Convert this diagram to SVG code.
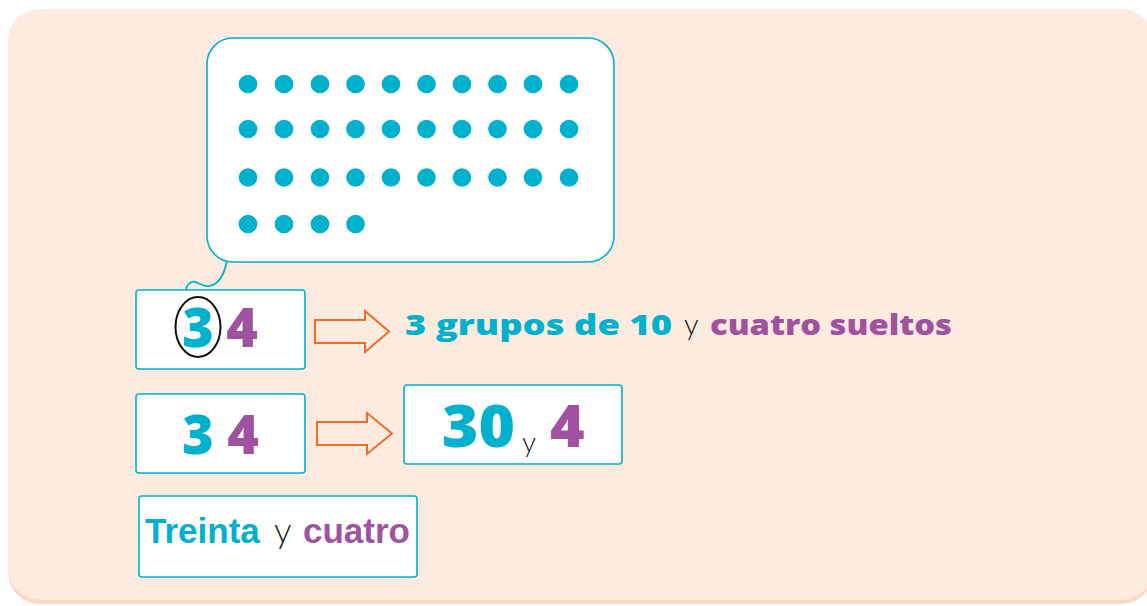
<svg xmlns="http://www.w3.org/2000/svg" width="1147" height="606" viewBox="0 0 1147 606">
<defs>
<style>
.box{fill:#fff;stroke:#00b1cd;stroke-width:1.6}
.dot{fill:#00b1cd}
.arr{fill:none;stroke:#f26b2a;stroke-width:2;stroke-linejoin:miter}
.b{font-family:"Open Sans","DejaVu Sans",sans-serif;font-weight:800}
.l{font-family:"Liberation Sans",Arial,sans-serif;font-weight:700}
.c{fill:#00b1cd}
.p{fill:#a0519f}
.y{font-family:Lato,"Open Sans",sans-serif;font-weight:300;fill:#222}
</style>
</defs>
<rect width="1147" height="606" fill="#fefefe"/>
<rect x="8" y="11" width="1145" height="593" rx="32" fill="#fcd8c4"/>
<rect x="8" y="9" width="1145" height="591" rx="32" fill="#fdebdf"/>

<g id="bubble">
<path d="M227,261 C224,275 218,287 206,286 C198,285 195,279 190,283 C187,285 186,288 186,291" fill="none" stroke="#00b1cd" stroke-width="1.8"/>
<rect class="box" x="207" y="38" width="407" height="224" rx="26"/>
<g id="dots">
<circle class="dot" cx="248" cy="84" r="9.3"/><circle class="dot" cx="284" cy="84" r="9.3"/><circle class="dot" cx="320" cy="84" r="9.3"/><circle class="dot" cx="355.5" cy="84" r="9.3"/><circle class="dot" cx="391" cy="84" r="9.3"/><circle class="dot" cx="426.5" cy="84" r="9.3"/><circle class="dot" cx="462" cy="84" r="9.3"/><circle class="dot" cx="497.5" cy="84" r="9.3"/><circle class="dot" cx="533" cy="84" r="9.3"/><circle class="dot" cx="569" cy="84" r="9.3"/>
<circle class="dot" cx="248" cy="129" r="9.3"/><circle class="dot" cx="284" cy="129" r="9.3"/><circle class="dot" cx="320" cy="129" r="9.3"/><circle class="dot" cx="355.5" cy="129" r="9.3"/><circle class="dot" cx="391" cy="129" r="9.3"/><circle class="dot" cx="426.5" cy="129" r="9.3"/><circle class="dot" cx="462" cy="129" r="9.3"/><circle class="dot" cx="497.5" cy="129" r="9.3"/><circle class="dot" cx="533" cy="129" r="9.3"/><circle class="dot" cx="569" cy="129" r="9.3"/>
<circle class="dot" cx="248" cy="177.5" r="9.3"/><circle class="dot" cx="284" cy="177.5" r="9.3"/><circle class="dot" cx="320" cy="177.5" r="9.3"/><circle class="dot" cx="355.5" cy="177.5" r="9.3"/><circle class="dot" cx="391" cy="177.5" r="9.3"/><circle class="dot" cx="426.5" cy="177.5" r="9.3"/><circle class="dot" cx="462" cy="177.5" r="9.3"/><circle class="dot" cx="497.5" cy="177.5" r="9.3"/><circle class="dot" cx="533" cy="177.5" r="9.3"/><circle class="dot" cx="569" cy="177.5" r="9.3"/>
<circle class="dot" cx="248" cy="224" r="9.3"/><circle class="dot" cx="284" cy="224" r="9.3"/><circle class="dot" cx="320" cy="224" r="9.3"/><circle class="dot" cx="355.5" cy="224" r="9.3"/>
</g>
</g>

<g id="box1">
<rect class="box" x="136" y="290" width="169" height="79" rx="3"/>
<text class="b c" x="198" y="347" font-size="54" text-anchor="middle">3</text>
<text class="b p" x="242" y="347" font-size="54" text-anchor="middle">4</text>
<ellipse cx="198" cy="327" rx="22.5" ry="30" fill="none" stroke="#111" stroke-width="2"/>
</g>

<g id="box2">
<rect class="box" x="136" y="394" width="169" height="79" rx="3"/>
<text class="b c" x="198" y="454" font-size="54" text-anchor="middle">3</text>
<text class="b p" x="243" y="454" font-size="54" text-anchor="middle">4</text>
</g>

<g id="label1">
<text x="405" y="335" font-size="29"><tspan class="b c" textLength="267" lengthAdjust="spacingAndGlyphs">3 grupos de 10</tspan><tspan class="y" x="684" font-size="29">y</tspan><tspan class="b p" x="710" textLength="242" lengthAdjust="spacingAndGlyphs">cuatro sueltos</tspan></text>
</g>

<g id="box3">
<rect class="box" x="404" y="385" width="218" height="79" rx="3"/>
<text class="b c" x="442" y="447" font-size="59" textLength="73" lengthAdjust="spacingAndGlyphs">30</text>
<text class="y" x="522" y="452" font-size="28">y</text>
<text class="b p" x="550" y="447" font-size="59">4</text>
</g>

<g id="box4">
<rect class="box" x="139" y="496" width="278" height="81" rx="3" stroke-width="2.4"/>
<text x="145" y="543" font-size="35"><tspan class="l c">Treinta</tspan><tspan class="y" x="274">y</tspan><tspan class="l p" x="303">cuatro</tspan></text>
</g>

<g id="connectors">
<path class="arr" d="M315,320 H365 V311 L389,331.5 L365,352 V343 H315 Z"/>
<path class="arr" d="M317,422 H367 V413 L392,433.5 L367,454 V445 H317 Z"/>
</g>
</svg>
